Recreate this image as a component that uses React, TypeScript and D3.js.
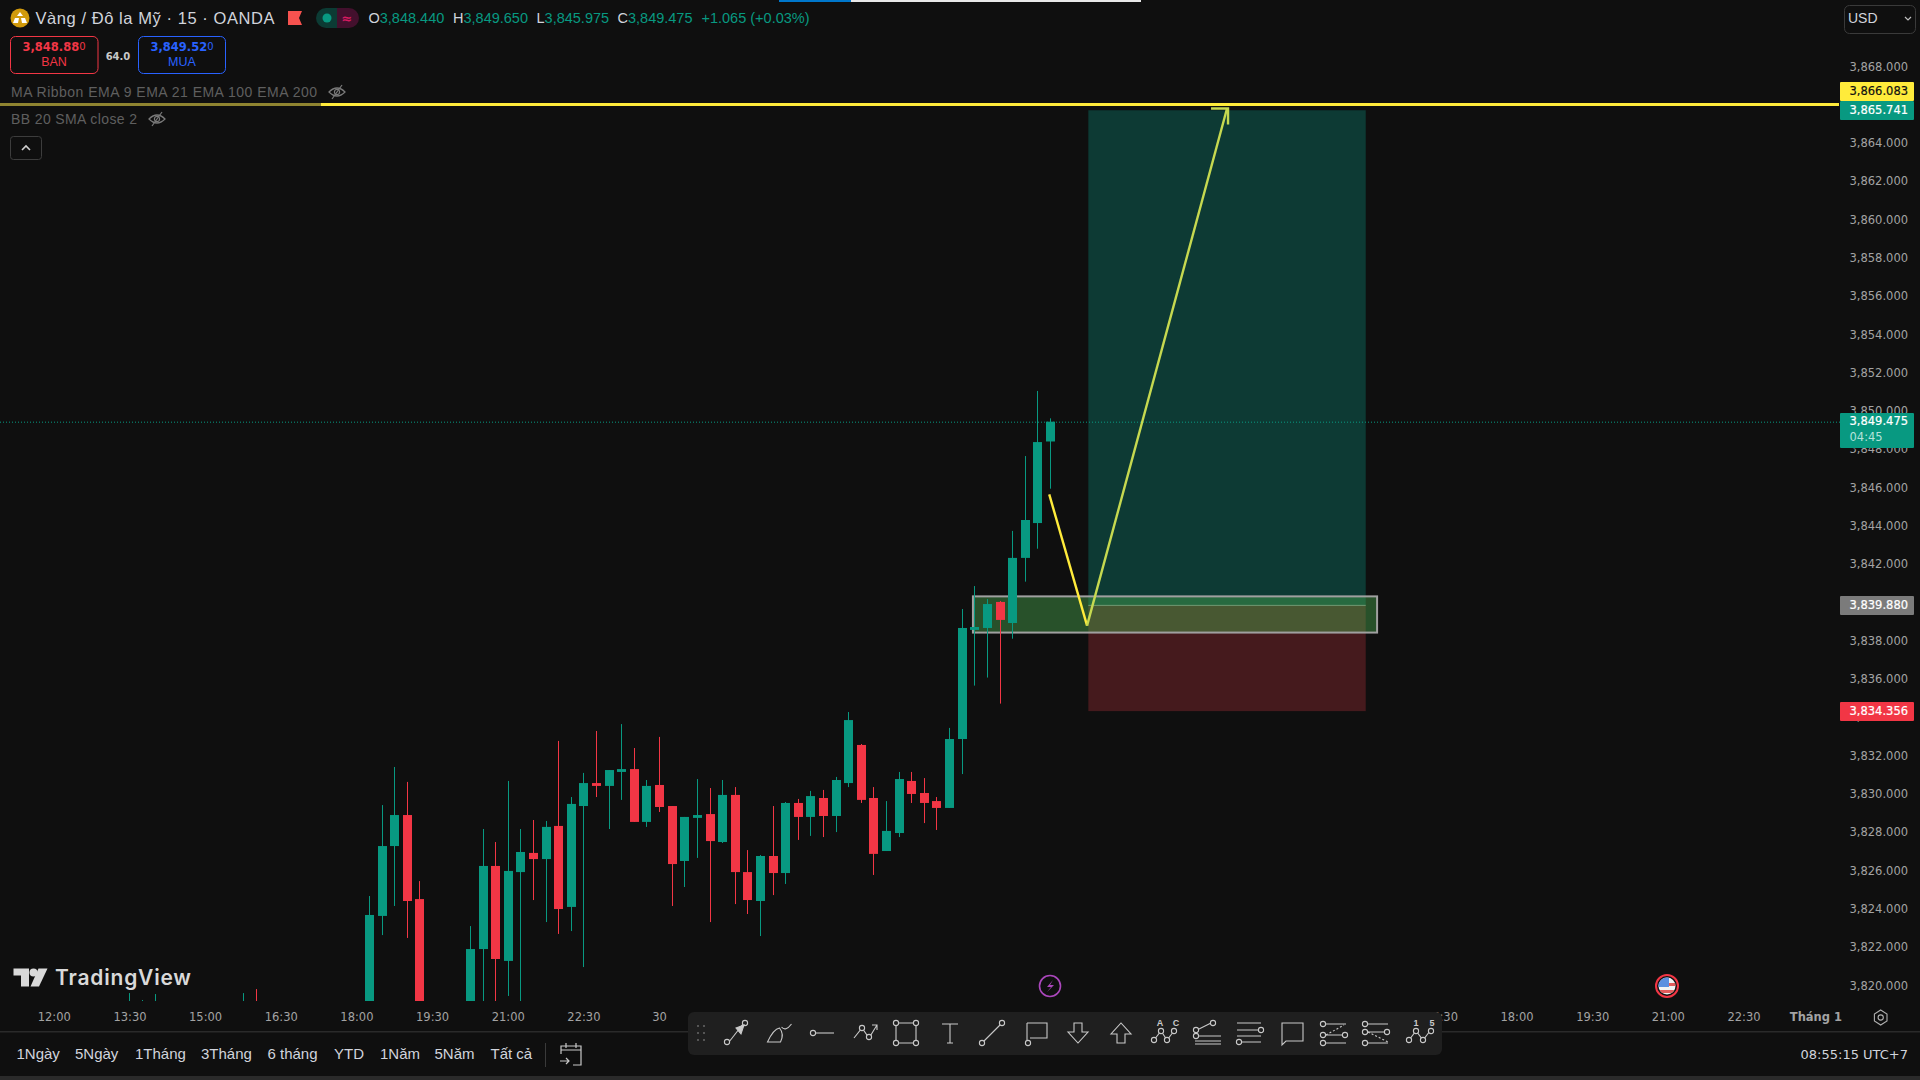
import React from 'react';
import * as d3 from 'd3';

// bars are counted in 15 minute steps from the 12:00 tick
const barIndex = [6, 7, 8, 15, 16, 25, 26, 27, 28, 29, 33, 34, 35, 36, 37, 38, 39, 40, 41, 42, 43, 44, 45, 46, 47, 48, 49, 50, 51, 52, 53, 54, 55, 56, 57, 58, 59, 60, 61, 62, 63, 64, 65, 66, 67, 68, 69, 70, 71, 72, 73, 74, 75, 76, 77, 78, 79];
const opens = [3817.0, 3817.5, 3817.0, 3817.0, 3817.5, 3817.0, 3823.66, 3827.31, 3828.93, 3824.54, 3818.0, 3821.93, 3826.27, 3821.31, 3825.95, 3826.95, 3826.63, 3828.36, 3824.13, 3829.40, 3830.60, 3830.45, 3831.18, 3831.33, 3828.57, 3830.50, 3829.40, 3826.53, 3828.78, 3828.98, 3827.52, 3829.98, 3825.95, 3824.44, 3826.79, 3825.90, 3829.56, 3828.83, 3829.82, 3828.88, 3830.60, 3832.59, 3829.82, 3827.05, 3827.99, 3830.71, 3830.08, 3829.66, 3829.30, 3832.90, 3838.60, 3838.70, 3840.06, 3838.96, 3842.36, 3844.18, 3848.44];
const highs = [3819.63, 3819.27, 3819.58, 3819.63, 3819.84, 3824.70, 3829.45, 3831.44, 3830.66, 3825.48, 3823.13, 3828.20, 3827.52, 3830.71, 3828.20, 3828.67, 3828.62, 3832.80, 3829.87, 3831.13, 3833.32, 3831.28, 3833.68, 3832.43, 3830.76, 3833.01, 3829.40, 3828.83, 3830.81, 3830.34, 3830.76, 3830.39, 3827.10, 3826.84, 3829.40, 3829.61, 3829.77, 3830.19, 3830.24, 3830.92, 3834.31, 3832.64, 3830.39, 3829.66, 3831.18, 3831.18, 3830.86, 3829.87, 3833.48, 3839.69, 3840.89, 3840.21, 3840.11, 3843.77, 3847.68, 3851.08, 3849.65];
const lows = [3816.5, 3816.5, 3816.5, 3816.5, 3816.5, 3816.5, 3822.66, 3824.18, 3822.51, 3817.0, 3817.5, 3818.5, 3818.5, 3819.48, 3818.8, 3824.49, 3823.34, 3822.72, 3822.87, 3820.99, 3829.87, 3828.20, 3829.72, 3828.57, 3828.31, 3829.09, 3824.18, 3825.17, 3826.69, 3823.34, 3827.47, 3824.28, 3823.76, 3822.61, 3824.75, 3825.33, 3827.63, 3827.84, 3827.78, 3828.04, 3830.39, 3829.56, 3825.80, 3827.05, 3827.78, 3829.56, 3828.51, 3828.15, 3829.30, 3831.07, 3835.69, 3836.11, 3834.75, 3838.14, 3841.12, 3842.84, 3845.975];
const closes = [3818.0, 3818.5, 3818.5, 3818.0, 3817.0, 3823.71, 3827.31, 3828.93, 3824.44, 3818.0, 3821.93, 3826.27, 3821.41, 3826.01, 3827.00, 3826.63, 3828.31, 3824.02, 3829.51, 3830.60, 3830.45, 3831.28, 3831.33, 3828.57, 3830.45, 3829.35, 3826.37, 3828.83, 3828.93, 3827.57, 3829.98, 3825.95, 3824.49, 3826.79, 3825.90, 3829.56, 3828.83, 3829.92, 3828.88, 3830.76, 3833.89, 3829.72, 3826.90, 3828.10, 3830.81, 3830.03, 3829.56, 3829.30, 3832.90, 3838.70, 3838.75, 3839.95, 3839.12, 3842.36, 3844.34, 3848.41, 3849.475];

// 3,866 sits fully behind the alert label
const priceTicks = d3.range(3820, 3869, 2).filter((p) => p !== 3866);
const timeTickBars = [0, 6, 12, 18, 24, 30, 36, 42, 48, 110, 116, 122, 128, 134, 139.7];
const timeTickLabels = ['12:00', '13:30', '15:00', '16:30', '18:00', '19:30', '21:00', '22:30', '30', '16:30', '18:00', '19:30', '21:00', '22:30', 'Tháng 1'];

const lastPrice = 3849.475;
const alertPrice = 3866.083;
const targetPrice = 3865.741;
const entryPrice = 3839.88;
const stopPrice = 3834.356;

const positionBars = [82, 104];
const zoneBars = [72.85, 104.9];
const zonePrices = [3840.35, 3838.46];
const pathBars = [78.9, 81.9, 93];
const pathPrices = [3845.68, 3838.82, 3865.83];

const rangeLabels = ['1Ngày', '5Ngày', '1Tháng', '3Tháng', '6 tháng', 'YTD', '1Năm', '5Năm', 'Tất cả'];
const rangeX = [16.5, 75, 135, 201, 267.5, 334, 380, 434.5, 490.5];

const BG = '#0f0f0f';
const GREEN = '#089981';
const RED = '#f23645';
const YELLOW = '#ffeb3b';
const PALE = '#c6d950';
const AXIS = 'DejaVu Sans';
const UI = 'Liberation Sans';

const x = d3.scaleLinear().domain([0, 100]).range([54.3, 1315.3]);
const y = d3.scaleLinear().domain([3868, 3820]).range([67, 986]);
const snap = (i: number) => Math.round(x(i) - 0.5);

const Icon = ({ cx, children }: { cx: number; children: React.ReactNode }) => (
  <g transform={`translate(${cx},1033)`} fill="none" stroke="#c9c9c9" strokeWidth={1.1}>{children}</g>
);
const Dot = ({ x: a, y: b }: { x: number; y: number }) => <circle cx={a} cy={b} r={2.6} fill="#1f1f1f" />;

const EyeOff = ({ cx, cy }: { cx: number; cy: number }) => (
  <g transform={`translate(${cx},${cy})`} fill="none" stroke="#7a7a7a" strokeWidth={1.2}>
    <path d="M-8 0 Q0 -8 8 0 Q0 8 -8 0Z" />
    <circle r={2.6} />
    <path d="M5 -7 L-5 7" />
  </g>
);

const PriceBox = ({ top, h, fill, label, color }: { top: number; h: number; fill: string; label: string; color: string }) => (
  <g>
    <rect x={1840} y={top} width={74} height={h} rx={1} fill={fill} />
    <text x={1849.5} y={top + 8.5} dy="0.35em" fontFamily={AXIS} fontSize={11.5} fill={color} stroke={color} strokeWidth={0.2}>{label}</text>
  </g>
);

export default function App() {
  const pathLine = d3.line<number>().x((d) => x(d)).y((_, i) => y(pathPrices[i]));
  const [bx0, bx1] = positionBars.map(x);
  const [zx0, zx1] = zoneBars.map(x);
  const tip = [x(pathBars[2]), y(pathPrices[2])];

  return (
    <svg width={1920} height={1080} style={{ position: 'absolute', left: 0, top: 0, background: BG, display: 'block' }}>
      <rect width={1920} height={1080} fill={BG} />
      <rect x={779} y={0} width={72} height={2} fill="#0077cc" />
      <rect x={851} y={0} width={290} height={2} fill="#e8e8e8" />

      {/* long position */}
      <rect x={bx0} y={y(targetPrice)} width={bx1 - bx0} height={y(entryPrice) - y(targetPrice)} fill="#0d3a34" />
      <rect x={bx0} y={y(entryPrice)} width={bx1 - bx0} height={y(stopPrice) - y(entryPrice)} fill="#451a1d" />
      <line x1={bx0} x2={bx1} y1={y(entryPrice)} y2={y(entryPrice)} stroke="#8a8a8a" strokeWidth={1} />

      {/* last price */}
      <line x1={0} x2={1840} y1={y(lastPrice) + 0.5} y2={y(lastPrice) + 0.5} stroke={GREEN} strokeWidth={1} strokeDasharray="1 2" />

      {/* demand zone */}
      <rect x={zx0} y={y(zonePrices[0])} width={zx1 - zx0} height={y(zonePrices[1]) - y(zonePrices[0])} fill="#4caf50" fillOpacity={0.42} stroke="#a0a0a0" strokeWidth={2} />

      {/* candles */}
      <g clipPath="url(#pane)">
        {barIndex.map((b, i) => {
          const up = closes[i] >= opens[i];
          const c = up ? GREEN : RED;
          const top = y(Math.max(opens[i], closes[i]));
          const bot = y(Math.min(opens[i], closes[i]));
          return (
            <g key={b} fill={c}>
              <rect x={snap(b)} y={y(highs[i])} width={1} height={y(lows[i]) - y(highs[i])} />
              <rect x={snap(b) - 4} y={top} width={9} height={Math.max(bot - top, 1)} />
            </g>
          );
        })}
      </g>
      <defs>
        <clipPath id="pane"><rect x={0} y={0} width={1840} height={1001} /></clipPath>
      </defs>

      {/* alert line, the part under the legend is dimmed */}
      <line x1={0} x2={321} y1={104.5} y2={104.5} stroke="#8f8430" strokeWidth={3} />
      <line x1={321} x2={1839} y1={104.5} y2={104.5} stroke={YELLOW} strokeWidth={3} />

      {/* forecast path */}
      <path d={pathLine(pathBars.slice(0, 2)) ?? ''} fill="none" stroke={YELLOW} strokeWidth={2.4} />
      <path d={d3.line()([[x(pathBars[1]), y(pathPrices[1])], tip as [number, number]]) ?? ''} fill="none" stroke={PALE} strokeWidth={2.4} />
      <path d={`M${tip[0] - 16} ${tip[1]} H${tip[0] + 1} V${tip[1] + 16}`} fill="none" stroke={PALE} strokeWidth={2.4} />

      {/* price axis */}
      <g fontFamily={AXIS} fontSize={11.5} fill="#a3a3a3">
        {priceTicks.map((p) => (
          <text key={p} x={1849.5} y={y(p) - 0.5} dy="0.35em">{d3.format(',.3f')(p)}</text>
        ))}
      </g>
      <PriceBox top={82} h={19} fill={YELLOW} label={d3.format(',.3f')(alertPrice)} color="#111" />
      <PriceBox top={101} h={19} fill={GREEN} label={d3.format(',.3f')(targetPrice)} color="#fff" />
      <PriceBox top={596} h={19} fill="#7b7b7b" label={d3.format(',.3f')(entryPrice)} color="#fff" />
      <PriceBox top={702} h={19} fill={RED} label={d3.format(',.3f')(stopPrice)} color="#fff" />
      <rect x={1840} y={413} width={74} height={35} rx={1} fill={GREEN} />
      <text x={1849.5} y={421} dy="0.35em" fontFamily={AXIS} fontSize={11.5} fill="#fff" stroke="#fff" strokeWidth={0.2}>{d3.format(',.3f')(lastPrice)}</text>
      <text x={1849.5} y={437} dy="0.35em" fontFamily={AXIS} fontSize={11.5} fill="#b5e2da">04:45</text>

      {/* time axis */}
      <g fontFamily={AXIS} fontSize={11.5} fill="#a3a3a3" textAnchor="middle">
        {timeTickBars.map((b, i) => (
          <text key={b} x={x(b)} y={1017} dy="0.35em" fontWeight={timeTickLabels[i] === 'Tháng 1' ? 700 : 400}>{timeTickLabels[i]}</text>
        ))}
      </g>
      <path d="M1880.7 1010 L1887 1014 V1021 L1880.7 1025 L1874.4 1021 V1014Z" fill="none" stroke="#b0b0b0" strokeWidth={1.1} />
      <circle cx={1880.7} cy={1017.5} r={2.6} fill="none" stroke="#b0b0b0" strokeWidth={1.1} />

      {/* events */}
      <circle cx={1050} cy={986} r={10.5} fill={BG} stroke="#ab47bc" strokeWidth={1.6} />
      <path d="M1053 980 L1047 987 H1051 L1047 992 L1054 985 H1050Z" fill="#ab47bc" />
      <circle cx={1667} cy={986} r={11} fill="#111" stroke={RED} strokeWidth={2} />
      <clipPath id="flag"><circle cx={1667} cy={986} r={8.5} /></clipPath>
      <g clipPath="url(#flag)">
        <rect x={1658} y={977} width={18} height={18} fill="#f2f2f2" />
        <rect x={1667} y={983} width={9} height={3} fill="#e25b5b" />
        <rect x={1658} y={990} width={18} height={3} fill="#e25b5b" />
        <rect x={1658} y={977} width={11} height={10} fill="#5a8fe0" />
      </g>

      {/* TradingView logo */}
      <g fill="#d9d9d9">
        <path d="M13.5 968.5 H29 V986.5 H21 V975.5 H13.5Z" />
        <circle cx={33.5} cy={972.5} r={4} />
        <path d="M38.5 968.5 H47.5 L39 986.5 H30.5Z" />
      </g>
      <text x={55} y={978} dy="0.35em" fontFamily="Inter" fontWeight={600} fontSize={21} fill="#d9d9d9" textLength={136}>TradingView</text>

      {/* header legend */}
      <circle cx={20} cy={18} r={9.5} fill="#d19a0c" />
      <path d="M20 12 L23 16 H17Z M15 18 H19 L18 23 H13Z M21 18 H25 L27 23 H22Z" fill="#fff" />
      <text x={35.5} y={18} dy="0.35em" fontFamily={UI} fontSize={16.5} fill="#d1d4dc" textLength={239}>Vàng / Đô la Mỹ · 15 · OANDA</text>
      <path d="M288 11 H302 L299 18 L302 25 H288Z" fill="#f7524f" />
      <path d="M326 8 H337 V28 H326 A10 10 0 0 1 326 8Z" fill="#0c3b34" />
      <path d="M337 8 H349 A10 10 0 0 1 349 28 H337Z" fill="#43102d" />
      <circle cx={327} cy={18} r={4.5} fill={GREEN} />
      <text x={347} y={18} dy="0.35em" textAnchor="middle" fontFamily={AXIS} fontWeight={700} fontSize={13} fill="#d81b60">≈</text>
      <g fontFamily={UI} fontSize={14.5} dominantBaseline="central">
        <text x={368.5} y={18} fill="#d1d4dc">O<tspan fill={GREEN}>3,848.440</tspan></text>
        <text x={453} y={18} fill="#d1d4dc">H<tspan fill={GREEN}>3,849.650</tspan></text>
        <text x={536.5} y={18} fill="#d1d4dc">L<tspan fill={GREEN}>3,845.975</tspan></text>
        <text x={617.5} y={18} fill="#d1d4dc">C<tspan fill={GREEN}>3,849.475</tspan></text>
        <text x={701.5} y={18} fill={GREEN}>+1.065 (+0.03%)</text>
      </g>

      {/* buy and sell */}
      <rect x={10.5} y={36.5} width={87.5} height={37} rx={5} fill="none" stroke={RED} />
      <rect x={138.5} y={36.5} width={87} height={37} rx={5} fill="none" stroke="#2962ff" />
      <text x={54} y={47} dy="0.35em" textAnchor="middle" fontFamily={AXIS} fontWeight={700} fontSize={11.5} fill={RED}>3,848.88<tspan fontSize={10} fontWeight={400} dy={-1.5}>0</tspan></text>
      <text x={54} y={61.5} dy="0.35em" textAnchor="middle" fontFamily={UI} fontSize={12.5} fill={RED}>BAN</text>
      <text x={182} y={47} dy="0.35em" textAnchor="middle" fontFamily={AXIS} fontWeight={700} fontSize={11.5} fill="#2962ff">3,849.52<tspan fontSize={10} fontWeight={400} dy={-1.5}>0</tspan></text>
      <text x={182} y={61.5} dy="0.35em" textAnchor="middle" fontFamily={UI} fontSize={12.5} fill="#2962ff">MUA</text>
      <text x={118} y={56} dy="0.35em" textAnchor="middle" fontFamily={AXIS} fontWeight={700} fontSize={10} fill="#c8c8c8">64.0</text>

      {/* indicators */}
      <text x={11} y={92} dy="0.35em" fontFamily={UI} fontSize={14} fill="#5f5f5f" textLength={306}>MA Ribbon EMA 9 EMA 21 EMA 100 EMA 200</text>
      <EyeOff cx={337} cy={92} />
      <text x={11} y={119} dy="0.35em" fontFamily={UI} fontSize={14} fill="#5f5f5f" textLength={126}>BB 20 SMA close 2</text>
      <EyeOff cx={157} cy={119} />
      <rect x={10.5} y={136.5} width={31} height={23} rx={3} fill="none" stroke="#3d3d3d" />
      <path d="M22 150 L26 146 L30 150" fill="none" stroke="#d0d0d0" strokeWidth={1.6} />

      {/* currency */}
      <rect x={1844.5} y={5.5} width={71} height={28} rx={5} fill="none" stroke="#3a3a3a" />
      <text x={1848} y={18} dy="0.35em" fontFamily={UI} fontSize={14} fill="#d1d4dc">USD</text>
      <path d="M1905 17 L1908 20 L1911 17" fill="none" stroke="#c0c0c0" strokeWidth={1.2} />

      {/* bottom bar */}
      <rect x={0} y={1031} width={1920} height={1.5} fill="#2a2a2a" />
      <rect x={0} y={1076} width={1920} height={4} fill="#2a2a2a" />
      <g fontFamily={UI} fontSize={15} fill="#d1d4dc">
        {rangeLabels.map((l, i) => (
          <text key={l} x={rangeX[i]} y={1054} dy="0.35em">{l}</text>
        ))}
      </g>
      <rect x={545} y={1043} width={1} height={24} fill="#3a3a3a" />
      <g fill="none" stroke="#c9c9c9" strokeWidth={1.2}>
        <path d="M561 1054 V1046 H581 V1065 H573 M561 1050 H581 M566 1043 V1048 M576 1043 V1048 M560 1061 H569 M566 1058 L569 1061 L566 1064" />
      </g>
      <text x={1908} y={1054} dy="0.35em" textAnchor="end" fontFamily={AXIS} fontSize={13} fill="#d1d4dc">08:55:15 UTC+7</text>

      {/* drawing toolbar */}
      <rect x={688} y={1012} width={754} height={43} rx={6} fill="#1f1f1f" />
      <g fill="#555">
        {[-7, 0, 7].map((d) => (
          <g key={d}>
            <rect x={697} y={1032 + d} width={2} height={2} />
            <rect x={703} y={1032 + d} width={2} height={2} />
          </g>
        ))}
      </g>
      <Icon cx={736}><path d="M-7 9 L7 -9" /><Dot x={-9} y={9} /><Dot x={9} y={-10} /><path d="M8 -8 L0 -5 L5 1Z" fill="#c9c9c9" /></Icon>
      <Icon cx={779.5}><path d="M-12 9 H1 Q5 1 0 -5 Q-6 -4 -12 9Z M2 -6 Q6 -1 12 -9" /></Icon>
      <Icon cx={822}><path d="M-6 0 H12" /><Dot x={-9} y={0} /></Icon>
      <Icon cx={865}><path d="M-11 5 L-3 -5 L4 5 L12 -8 M7 -8 H12 V-3" /><Dot x={-3} y={-5} /><Dot x={4} y={4} /></Icon>
      <Icon cx={906}><path d="M-10 -10 H10 V10 H-10Z" /><Dot x={-10} y={-10} /><Dot x={10} y={-10} /><Dot x={-10} y={10} /><Dot x={10} y={10} /></Icon>
      <Icon cx={950}><path d="M-8 -9 H8 M0 -9 V10 M-3 10 H3" /></Icon>
      <Icon cx={992}><path d="M-9 9 L9 -9" /><Dot x={-10} y={10} /><Dot x={10} y={-10} /></Icon>
      <Icon cx={1037}><path d="M-10 -10 H10 V5 H-7 M-10 -10 V7" /><Dot x={-9} y={10} /></Icon>
      <Icon cx={1078}><path d="M-4 -10 H4 V-1 H10 L0 10 L-10 -1 H-4Z" /></Icon>
      <Icon cx={1121}><path d="M-4 10 H4 V1 H10 L0 -10 L-10 1 H-4Z" /></Icon>
      <Icon cx={1164}><path d="M-10 7 L-3 -2 L3 7 L10 -2" /><Dot x={-10} y={7} /><Dot x={-3} y={-2} /><Dot x={3} y={7} /><Dot x={10} y={-2} /></Icon>
      <Icon cx={1207}><path d="M-10 -3 L4 -10 M-10 3 H14 M-12 8 H14 M-12 11 H14" /><Dot x={-11} y={-3} /><Dot x={6} y={-10} /><Dot x={-11} y={3} /></Icon>
      <Icon cx={1249}><path d="M-12 -10 H12 M-12 -3 H12 M-8 9 H12 M-12 3 H12" /><Dot x={12} y={-3} /><Dot x={-10} y={9} /></Icon>
      <Icon cx={1292}><path d="M-10 -10 H11 V8 H-6 L-10 12Z" /></Icon>
      <Icon cx={1334}><path d="M-9 -9 H12 M-9 2 H12 M-9 10 H12" /><path d="M-8 2 L10 -8" strokeDasharray="2 2" /><Dot x={-11} y={-9} /><Dot x={-11} y={2} /><Dot x={11} y={2} /><Dot x={-11} y={10} /></Icon>
      <Icon cx={1376}><path d="M-9 -9 H12 M-9 -1 H12 M-9 10 H12" /><path d="M-8 -1 L12 9" strokeDasharray="2 2" /><Dot x={-11} y={-9} /><Dot x={-11} y={-1} /><Dot x={11} y={-1} /><Dot x={-11} y={10} /></Icon>
      <Icon cx={1420}><path d="M-11 7 L-4 -2 L3 7 L10 -2" /><Dot x={-11} y={7} /><Dot x={-4} y={-2} /><Dot x={3} y={7} /><Dot x={11} y={-2} /></Icon>
      <g fontFamily={UI} fontSize={9} fontWeight={700} fill="#c9c9c9" textAnchor="middle">
        <text x={1160} y={1026}>A</text>
        <text x={1176} y={1026}>C</text>
        <text x={1416} y={1026}>1</text>
        <text x={1432} y={1026}>5</text>
      </g>
    </svg>
  );
}
